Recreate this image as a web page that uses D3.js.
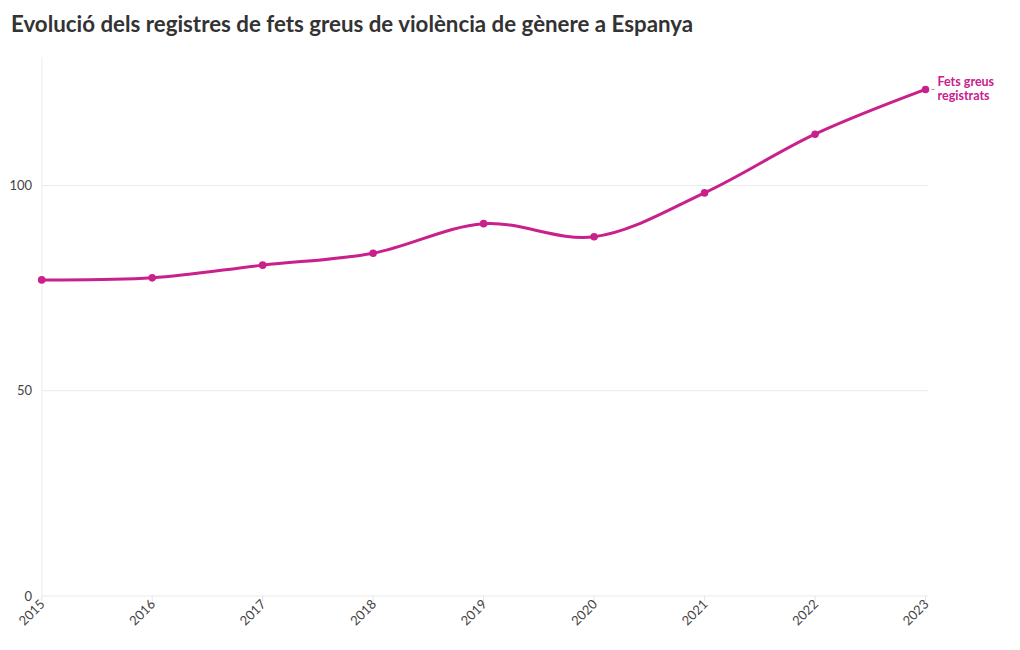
<!DOCTYPE html>
<html><head><meta charset="utf-8">
<script src="https://cdn.jsdelivr.net/npm/d3@7"></script>
<style>
body{margin:0;background:#fff;}
text{font-family:"Source Sans Pro","Lato","Open Sans",sans-serif;}
</style></head>
<body><svg id="c" width="1020" height="650"></svg>
<script>
const years = [2015,2016,2017,2018,2019,2020,2021,2022,2023];
const values = [77.0,77.5,80.6,83.5,90.7,87.5,98.2,112.5,123.4];
const yTicks = [0,50,100];
const seriesName = ["Fets greus","registrats"];
const title = "Evolució dels registres de fets greus de violència de gènere a Espanya";
const color = "#c9208c";

const svg = d3.select("#c");
const m = {l:42, t:57, b:54};
const W = 1020, H = 650;
const x = d3.scaleLinear().domain([2015,2023]).range([41.7, 925.5]);
const y = d3.scaleLinear().domain([0,131.3]).range([H-m.b, m.t]);

svg.append("text").attr("x",11).attr("y",32).attr("fill","#333")
  .attr("font-size",22.3).attr("font-weight",700).text(title);

// grid
svg.append("g").selectAll("line").data(yTicks).join("line")
  .attr("x1",m.l).attr("x2",928).attr("y1",d=>y(d)).attr("y2",d=>y(d))
  .attr("stroke","#ebebeb").attr("stroke-width",1);
svg.append("line").attr("x1",m.l).attr("x2",m.l).attr("y1",m.t).attr("y2",y(0))
  .attr("stroke","#ebebeb");

// y labels
svg.append("g").selectAll("text").data(yTicks).join("text")
  .attr("x",32).attr("y",d=>y(d)+4.5).attr("text-anchor","end")
  .attr("font-size",13).attr("fill","#444").text(d=>d);

// x ticks
const xa = svg.append("g");
xa.selectAll("line").data(years).join("line")
  .attr("x1",d=>x(d)).attr("x2",d=>x(d)).attr("y1",y(0)).attr("y2",y(0)+5)
  .attr("stroke","#e4e4e4");
xa.selectAll("text").data(years).join("text")
  .attr("transform",d=>`translate(${x(d)+4},${y(0)+9}) rotate(-45)`)
  .attr("text-anchor","end").attr("font-size",13).attr("fill","#444").text(d=>d);

// line
const data = years.map((yr,i)=>({yr, v:values[i]}));
svg.append("path").datum(data)
  .attr("d", d3.line().x(d=>x(d.yr)).y(d=>y(d.v)).curve(d3.curveCatmullRom.alpha(0.5)))
  .attr("fill","none").attr("stroke",color).attr("stroke-width",3);
svg.append("g").selectAll("circle").data(data).join("circle")
  .attr("cx",d=>x(d.yr)).attr("cy",d=>y(d.v)).attr("r",3.8).attr("fill",color);

// label
const last = data[data.length-1];
svg.append("line").attr("x1",x(last.yr)+6).attr("x2",x(last.yr)+9)
  .attr("y1",y(last.v)).attr("y2",y(last.v)).attr("stroke","#999");
svg.append("g").selectAll("text").data(seriesName).join("text")
  .attr("x",x(last.yr)+12).attr("y",(d,i)=>y(last.v)-3+i*13.5)
  .attr("font-size",12.5).attr("font-weight",700).attr("fill",color).text(d=>d);
</script></body></html>
